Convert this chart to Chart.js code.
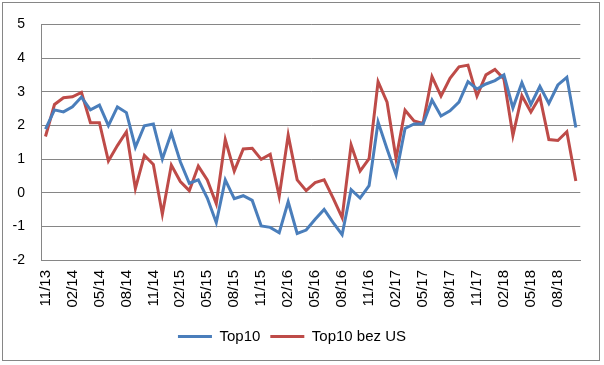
<!DOCTYPE html>
<html>
<head>
<meta charset="utf-8">
<script src="https://cdn.jsdelivr.net/npm/chart.js@4/dist/chart.umd.min.js"></script>
<style>
  body { margin: 0; background: #fff; }
  #wrap { position: relative; width: 604px; height: 365px; }
  #frame { position: absolute; left: 2px; top: 2px; width: 598px; height: 359px; border: 1px solid #868686; box-sizing: border-box; pointer-events: none; }
  canvas { position: absolute; left: 0; top: 0; }
</style>
</head>
<body>
<div id="wrap">
  <canvas id="chart" width="604" height="365"></canvas>
  <div id="frame"></div>
</div>
<script>
// months 11/13 .. 10/18
const months = [
  "11/13", "12/13", "01/14", "02/14", "03/14", "04/14", "05/14", "06/14", "07/14", "08/14",
  "09/14", "10/14", "11/14", "12/14", "01/15", "02/15", "03/15", "04/15", "05/15", "06/15",
  "07/15", "08/15", "09/15", "10/15", "11/15", "12/15", "01/16", "02/16", "03/16", "04/16",
  "05/16", "06/16", "07/16", "08/16", "09/16", "10/16", "11/16", "12/16", "01/17", "02/17",
  "03/17", "04/17", "05/17", "06/17", "07/17", "08/17", "09/17", "10/17", "11/17", "12/17",
  "01/18", "02/18", "03/18", "04/18", "05/18", "06/18", "07/18", "08/18", "09/18", "10/18"
];

const top10 = [
  1.89, 2.46, 2.40, 2.55, 2.84, 2.46, 2.60, 1.99, 2.55, 2.38,
  1.35, 1.99, 2.04, 1.00, 1.77, 0.92, 0.28, 0.38, -0.16, -0.89,
  0.38, -0.18, -0.09, -0.23, -0.99, -1.03, -1.19, -0.27, -1.21, -1.11,
  -0.79, -0.50, -0.89, -1.25, 0.09, -0.16, 0.21, 2.10, 1.30, 0.53,
  1.91, 2.04, 2.04, 2.75, 2.28, 2.43, 2.69, 3.30, 3.08, 3.23,
  3.33, 3.50, 2.52, 3.27, 2.62, 3.16, 2.65, 3.20, 3.43, 1.94
];

const top10bezUS = [
  1.67, 2.62, 2.82, 2.85, 2.98, 2.08, 2.08, 0.94, 1.40, 1.81,
  0.12, 1.11, 0.84, -0.64, 0.82, 0.33, 0.06, 0.79, 0.38, -0.33,
  1.58, 0.64, 1.30, 1.32, 0.99, 1.14, -0.11, 1.71, 0.38, 0.06,
  0.30, 0.38, -0.16, -0.74, 1.42, 0.64, 1.01, 3.30, 2.69, 1.01,
  2.45, 2.13, 2.06, 3.45, 2.87, 3.40, 3.74, 3.79, 2.87, 3.50,
  3.66, 3.38, 1.70, 2.88, 2.40, 2.85, 1.58, 1.55, 1.81, 0.35
];

const seriesNames = ["Top10", "Top10 bez US"];
const seriesColors = ["#4A7EBB", "#BE4B48"];

const gridColor = "#868686";
const fontFamily = "'Liberation Sans', Arial, sans-serif";

new Chart(document.getElementById("chart").getContext("2d"), {
  type: "line",
  data: {
    labels: months,
    datasets: [top10, top10bezUS].map((values, i) => ({
      label: seriesNames[i],
      data: values,
      borderColor: seriesColors[i],
      backgroundColor: seriesColors[i],
      borderWidth: 3,
      pointRadius: 0,
      tension: 0,
      fill: false,
    })),
  },
  options: {
    responsive: false,
    animation: false,
    layout: { padding: { top: 20, right: 20, bottom: 11, left: 0 } },
    plugins: {
      tooltip: { enabled: false },
      legend: {
        position: "bottom",
        labels: {
          color: "#000",
          font: { family: fontFamily, size: 15 },
          boxWidth: 34,
          boxHeight: 3,
          padding: 10,
          generateLabels: (chart) =>
            chart.data.datasets.map((ds, i) => ({
              text: ds.label,
              fillStyle: ds.borderColor,
              strokeStyle: ds.borderColor,
              lineWidth: 0,
              datasetIndex: i,
            })),
        },
      },
    },
    scales: {
      x: {
        offset: true,
        grid: { display: false, drawTicks: false },
        border: { display: true, color: gridColor },
        afterFit: (scale) => { scale.height = 59; },
        ticks: {
          autoSkip: false,
          maxRotation: 90,
          minRotation: 90,
          padding: 10,
          color: "#000",
          font: { family: fontFamily, size: 15 },
          callback: function (value, index) {
            return index % 3 === 0 ? this.getLabelForValue(value) : "";
          },
        },
      },
      y: {
        min: -2,
        max: 5,
        grid: { color: gridColor, drawTicks: false },
        border: { display: true, color: gridColor },
        afterFit: (scale) => { scale.width = 41; },
        ticks: {
          stepSize: 1,
          padding: 16,
          color: "#000",
          font: { family: fontFamily, size: 14 },
        },
      },
    },
  },
});
</script>
</body>
</html>
